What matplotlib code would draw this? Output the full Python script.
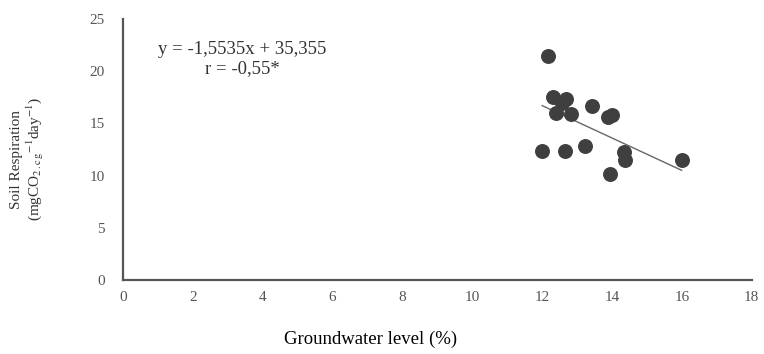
import matplotlib.pyplot as plt
import numpy as np

plt.rcParams['font.family'] = ['Liberation Serif', 'DejaVu Serif']
plt.rcParams['mathtext.fontset'] = 'stix'

# Groundwater level (%) vs soil respiration
groundwater = [12.16, 12.32, 12.69, 12.57, 12.40, 12.83, 13.43, 13.88, 14.01,
               12.00, 12.64, 13.23, 14.35, 14.38, 13.93, 15.99]
respiration = [21.5, 17.5, 17.3, 17.0, 16.0, 15.9, 16.7, 15.6, 15.8,
               12.4, 12.4, 12.8, 12.3, 11.5, 10.2, 11.5]

slope = -1.5535
intercept = 35.355

x_ticks = [0, 2, 4, 6, 8, 10, 12, 14, 16, 18]
y_ticks = [0, 5, 10, 15, 20, 25]

fig = plt.figure(figsize=(7.64, 3.54), dpi=100)
ax = fig.add_axes([0.161, 0.209, 0.823, 0.737])

ax.scatter(groundwater, respiration, s=95, color='#3f3f3f', zorder=3)

# trend line over the observed range
xl = np.array([min(groundwater), max(groundwater)])
ax.plot(xl, slope * xl + intercept, color='#666666', lw=1.0, zorder=2)

ax.set_xlim(0, 18)
ax.set_ylim(0, 25)
ax.set_xticks(x_ticks)
ax.set_yticks(y_ticks)
ax.tick_params(axis='y', length=0, labelsize=11, labelcolor='#555555', pad=13)
ax.tick_params(axis='x', length=0, labelsize=11, labelcolor='#555555', pad=8)

for s in ['top', 'right']:
    ax.spines[s].set_visible(False)
for s in ['left', 'bottom']:
    ax.spines[s].set_color('#555555')
    ax.spines[s].set_linewidth(1.6)

ax.text(0.19, 0.847, 'y = -1,5535x + 35,355\nr = -0,55*', transform=ax.transAxes,
        ha='center', va='center', fontsize=13.5, color='#333333', linespacing=1.1)

fig.text(0.037, 0.55, 'Soil Respiration\n(mgCO$_2$$_{\\mathrm{.c\\,g}}$$^{-1}$day$^{-1}$)', rotation=90,
         ha='center', va='center', fontsize=11, color='#333333', linespacing=1.1)
fig.text(0.485, 0.04, 'Groundwater level (%)', ha='center', va='center',
         fontsize=13.5, color='black')

fig.savefig('out.png', dpi=100)
